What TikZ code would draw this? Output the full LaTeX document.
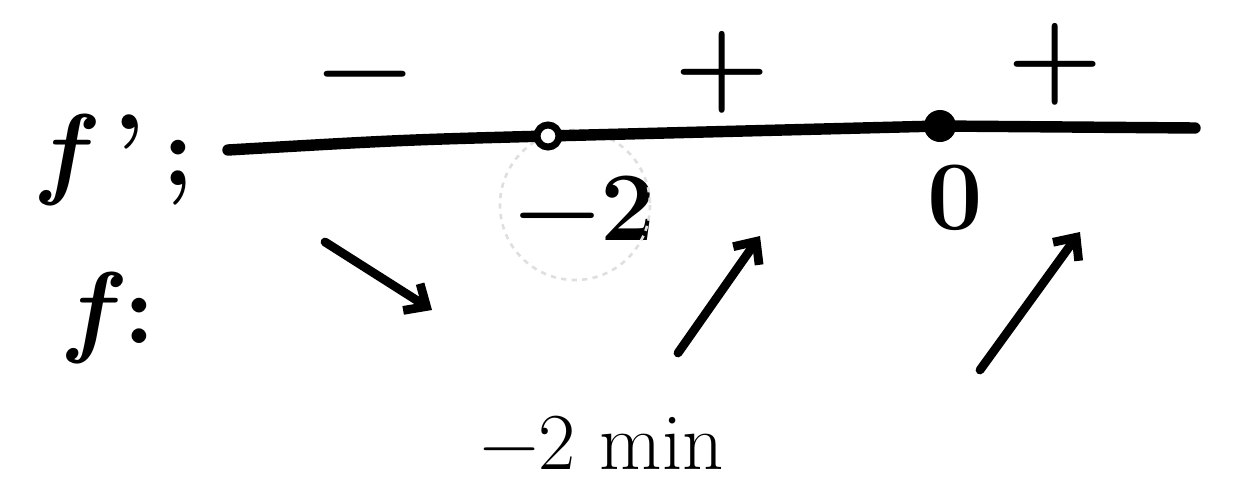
\documentclass[tikz,border=0pt]{standalone}
\usepackage{fontspec}
\setmainfont{Latin Modern Roman}
\usepackage{tikz}
\usetikzlibrary{arrows.meta,positioning}

\begin{document}
\begin{tikzpicture}[x=0.02cm, y=-0.02cm,
    label/.style={font=\fontsize{58}{58}\selectfont\bfseries, inner sep=0pt},
    sign/.style={font=\fontsize{62}{62}\selectfont\bfseries, inner sep=0pt},
    value/.style={font=\fontsize{56}{56}\selectfont\bfseries, inner sep=0pt},
    axis/.style={draw, line width=6.5pt, line cap=round},
    trend/.style={draw, line width=5pt, line cap=round, -{Straight Barb[length=10pt, width=18pt, line width=5pt]}}]
    \useasboundingbox (0,0) rectangle (1245,504);

    % Nodes
    \node [label] (fprime) at (118,160) {\textit{f}\,'\,;};
    \node [label] (f) at (112,318) {\textit{f}:};
    \coordinate (start) at (228,150);
    \coordinate (end) at (1195,128);
    \coordinate (crit) at (548,136);
    \coordinate (zero) at (940,126);
    \node [sign] (minus) at (365,86) {−};
    \node [sign] (plusa) at (722,72) {+};
    \node [sign] (plusb) at (1055,64) {+};
    \node [value] (m2) at (585,208) {−2};
    \node [value] (z0) at (955,198) {0};
    \node [font=\fontsize{46}{46}\selectfont, inner sep=0pt] (note) at (602,443) {−2 min};
    \coordinate (da) at (325,242);
    \coordinate (db) at (432,310);
    \coordinate (ua) at (678,353);
    \coordinate (ub) at (760,236);
    \coordinate (va) at (980,370);
    \coordinate (vb) at (1080,232);

    % Edges
    \draw [gray!25, dashed, line width=1.5pt] (575,205) circle (75);
    \path [axis] (start) .. controls (400,140) .. (crit) -- (zero) -- (end);
    \draw [line width=4pt, fill=white] (crit) circle (11);
    \fill (zero) circle (16);
    \path [trend] (da) -- (db);
    \path [trend] (ua) -- (ub);
    \path [trend] (va) -- (vb);
\end{tikzpicture}
\end{document}
